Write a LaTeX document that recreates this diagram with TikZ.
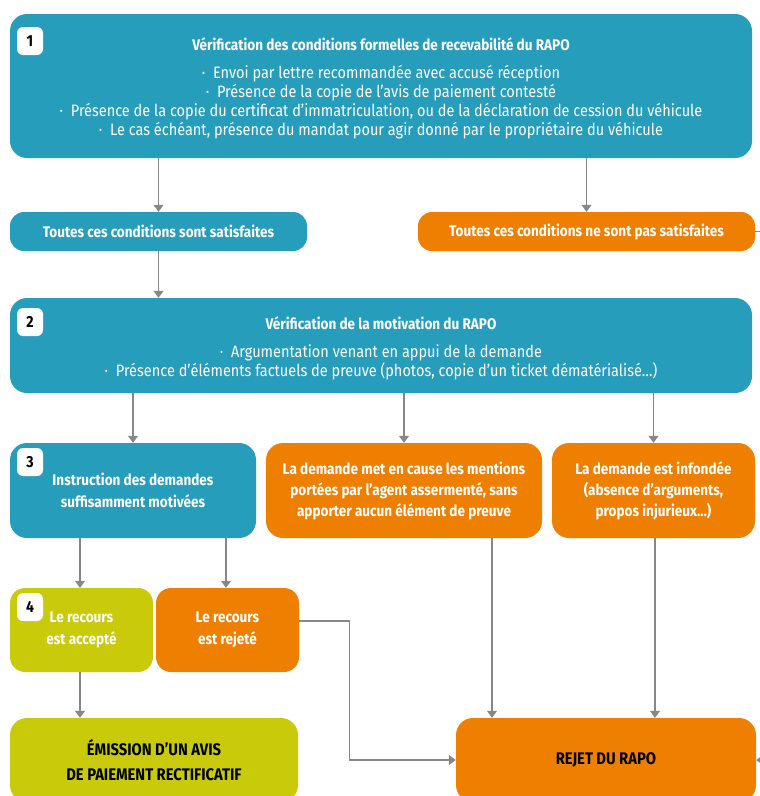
\documentclass[tikz,border=0pt]{standalone}
\usepackage{fontspec}
\setmainfont{Fira Sans}[FakeStretch=0.88]
\usetikzlibrary{arrows.meta,calc}
\definecolor{cblue}{RGB}{39,157,188}
\definecolor{corange}{RGB}{239,127,0}
\definecolor{cgreen}{RGB}{201,203,10}
\definecolor{cgray}{RGB}{135,135,135}
\newcommand{\btitle}[1]{{\bfseries\fontsize{15.4}{19}\selectfont\rule{0pt}{18pt}#1}}
\begin{document}
\begin{tikzpicture}[x=1pt,y=-1pt,
  box/.style={rounded corners=17pt, inner sep=0pt, text=white, align=center, font=\fontsize{16.5}{19}\selectfont},
  bluebox/.style={box, fill=cblue},
  orangebox/.style={box, fill=corange},
  greenbox/.style={box, fill=cgreen},
  boldbox/.style={font=\bfseries\fontsize{15.4}{21}\selectfont},
  darktext/.style={text=black, font=\bfseries\fontsize{16.8}{25}\selectfont},
  arr/.style={draw=cgray, line width=1.4pt, -{Triangle[width=10pt,length=7pt]}},
  link/.style={draw=cgray, line width=1.4pt},
  badge/.style={fill=white, rounded corners=6pt, minimum width=26pt, minimum height=28pt, inner sep=0pt, text=black, font=\bfseries\fontsize{16}{16}\selectfont}
]
\useasboundingbox (0,0) rectangle (760,796);

% step 1
\node[bluebox, minimum width=742pt, minimum height=144pt] (b1) at (381,86)
 {\btitle{Vérification des conditions formelles de recevabilité du RAPO}\\[9pt]
  ·\ \ Envoi par lettre recommandée avec accusé réception\\
  ·\ \ Présence de la copie de l’avis de paiement contesté\\
  ·\ \ Présence de la copie du certificat d’immatriculation, ou de la déclaration de cession du véhicule\\
  ·\ \ Le cas échéant, présence du mandat pour agir donné par le propriétaire du véhicule};
\node[badge] (n1) at (30,41) {1};

\node[bluebox, boldbox, rounded corners=14pt, minimum width=297pt, minimum height=39pt] (sat) at (158.5,231.5) {Toutes ces conditions sont satisfaites};
\node[orangebox, boldbox, rounded corners=14pt, minimum width=337pt, minimum height=39pt] (unsat) at (586.5,231.5) {Toutes ces conditions ne sont pas satisfaites};

% step 2
\node[bluebox, minimum width=742pt, minimum height=95pt] (b2) at (381,345.5)
 {\btitle{Vérification de la motivation du RAPO}\\[9pt]
  ·\ \ Argumentation venant en appui de la demande\\
  ·\ \ Présence d’éléments factuels de preuve (photos, copie d’un ticket dématérialisé…)};
\node[badge] (n2) at (30,322) {2};

% step 3
\node[bluebox, boldbox, minimum width=246pt, minimum height=95pt, font=\bfseries\fontsize{15.4}{22}\selectfont] (b3) at (133,490.5)
 {Instruction des demandes\\suffisamment motivées};
\node[badge] (n3) at (30,462) {3};
\node[orangebox, boldbox, minimum width=276pt, minimum height=95pt] (mid) at (404,490.5)
 {La demande met en cause les mentions\\portées par l’agent assermenté, sans\\apporter aucun élément de preuve};
\node[orangebox, boldbox, minimum width=203pt, minimum height=95pt] (inf) at (653.5,490.5)
 {La demande est infondée\\(absence d’arguments,\\propos injurieux…)};

% step 4
\node[greenbox, rounded corners=15pt, minimum width=143pt, minimum height=84pt, font=\bfseries\fontsize{15.4}{22}\selectfont] (acc) at (81.5,630)
 {Le recours\\est accepté};
\node[badge] (n4) at (30,607) {4};
\node[orangebox, rounded corners=15pt, minimum width=143pt, minimum height=84pt, font=\bfseries\fontsize{15.4}{22}\selectfont] (rej4) at (227.5,630)
 {Le recours\\est rejeté};

% final
\node[greenbox, darktext, minimum width=288pt, minimum height=84pt] (emis) at (154,760)
 {ÉMISSION D’UN AVIS\\DE PAIEMENT RECTIFICATIF};
\node[orangebox, darktext, minimum width=300pt, minimum height=84pt] (rejet) at (606,760)
 {REJET DU RAPO};

% connectors
\draw[arr] (sat.north |- b1.south) -- (sat.north);
\draw[arr] (unsat.north |- b1.south) -- (unsat.north);
\draw[link] (unsat.east) -- ++(40,0) coordinate (outr) |- ($(rejet.east)+(40,0)$);
\draw[arr] ($(rejet.east)+(40,0)$) -- (rejet.east);
\draw[arr] (sat.south) -- (sat.south |- b2.north);
\draw[arr] (b3.north |- b2.south) -- (b3.north);
\draw[arr] (mid.north |- b2.south) -- (mid.north);
\draw[arr] (inf.north |- b2.south) -- (inf.north);
\draw[arr] ([xshift=-1.5pt]acc.north |- b3.south) -- ([xshift=-1.5pt]acc.north);
\draw[arr] ([xshift=-1.5pt]rej4.north |- b3.south) -- ([xshift=-1.5pt]rej4.north);
\draw[arr] ([xshift=-1.5pt]acc.south) -- ([xshift=-1.5pt]acc.south |- emis.north);
\draw[arr] ([xshift=88pt]mid.south) -- ([xshift=88pt]mid.south |- rejet.north);
\draw[arr] ([xshift=1.5pt]inf.south) -- ([xshift=1.5pt]inf.south |- rejet.north);
\draw[arr] ([yshift=9pt]rej4.east) -| ++(50,0) |- (rejet.west);
\end{tikzpicture}
\end{document}
